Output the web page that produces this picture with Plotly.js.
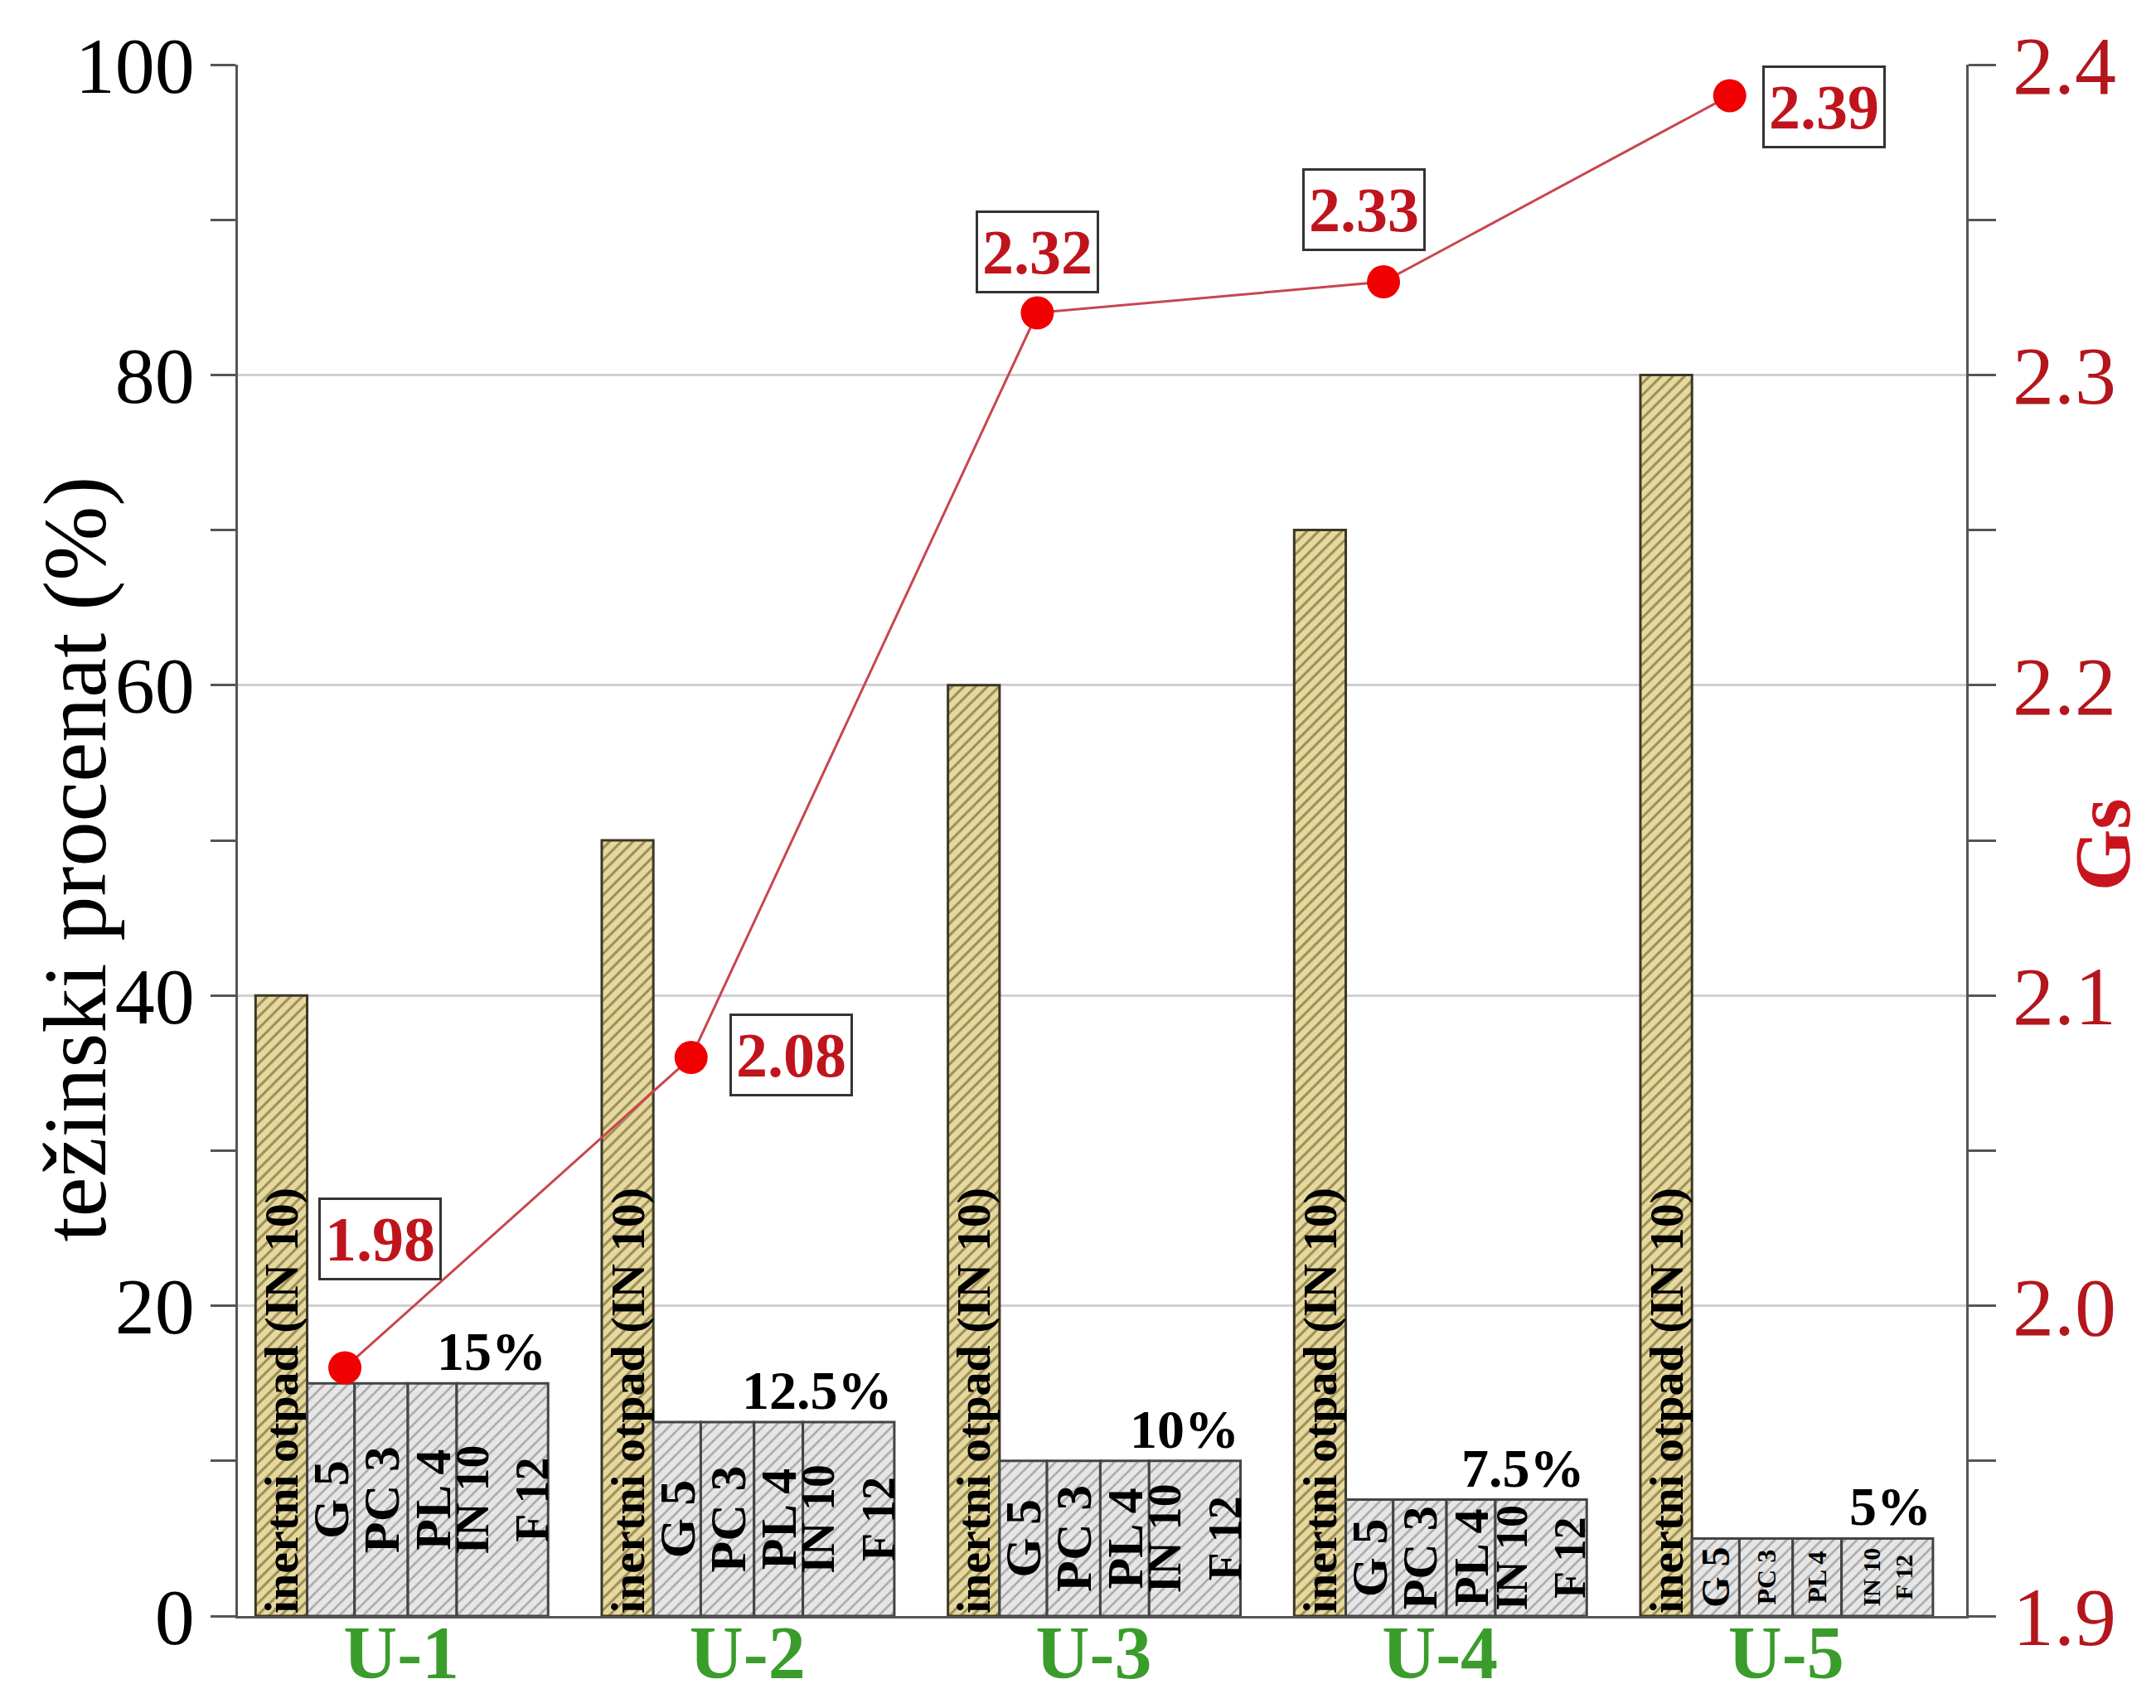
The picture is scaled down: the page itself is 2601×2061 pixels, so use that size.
<!DOCTYPE html>
<html>
<head>
<meta charset="utf-8">
<script src="https://cdn.plot.ly/plotly-3.0.1.min.js"></script>
<style>
  html, body { margin: 0; padding: 0; background: #ffffff; }
  #chart { width: 2601px; height: 2061px; }
</style>
</head>
<body>
<div id="chart"></div>
<script>
// ---------------- DATA ----------------
const categories = ['U-1', 'U-2', 'U-3', 'U-4', 'U-5'];
const inertWaste = [40, 50, 60, 70, 80];            // inertni otpad (IN 10), %
const otherWaste = [15, 12.5, 10, 7.5, 5];          // each of G5 / PC3 / PL4 / IN10+F12 cells, %
const gsValues   = [1.98, 2.08, 2.32, 2.33, 2.39];  // Gs (right axis)
const inertLabel = 'inertni otpad (IN 10)';
const cellLabels = ['G 5', 'PC 3', 'PL 4', 'IN 10<br>F 12'];
const yTitle = 'težinski procenat (%)';
const y2Title = 'Gs';

// ---------------- STYLE / GEOMETRY ----------------
const FONT = 'Liberation Serif, Times New Roman, serif';
const inertGeom = { offset: -0.421, width: 0.149 };
const cellGeom = [
  { offset: -0.272, width: 0.137 },
  { offset: -0.135, width: 0.154 },
  { offset:  0.019, width: 0.141 },
  { offset:  0.160, width: 0.264 }
];
// font size of the cell labels per group (last group has very short cells)
const cellFontSizes = [
  [62, 62, 62, 62, 48],
  [62, 62, 62, 60, 32],
  [62, 62, 62, 60, 32],
  [56, 56, 56, 54, 30]
];
const groupRightEdge = 0.424;
const markerShift = 0.163;
const xRange = [-0.472, 4.52];
const gsLabelShift = [[42, 155], [121, 3], [0, 74], [-24, 87], [114, -14]];

const traces = [];

traces.push({
  type: 'bar',
  x: categories,
  y: inertWaste,
  offset: inertGeom.offset,
  width: inertGeom.width,
  text: categories.map(() => inertLabel),
  textposition: 'inside',
  insidetextanchor: 'start',
  constraintext: 'none',
  textangle: -90,
  textfont: { family: FONT, size: 58, color: '#000000', weight: 'bold' },
  marker: {
    color: '#e6d9a0',
    line: { color: '#3c3826', width: 3 },
    pattern: { shape: '/', size: 10, solidity: 0.3, fgcolor: '#9c8d55', bgcolor: '#e6d9a0', fillmode: 'replace' }
  },
  hoverinfo: 'skip',
  showlegend: false
});

cellLabels.forEach((lab, k) => {
  traces.push({
    type: 'bar',
    x: categories,
    y: otherWaste,
    offset: cellGeom[k].offset,
    width: cellGeom[k].width,
    text: categories.map(() => lab),
    textposition: 'inside',
    insidetextanchor: 'middle',
    constraintext: 'none',
    textangle: -90,
    textfont: { family: FONT, size: cellFontSizes[k], color: '#000000', weight: 'bold' },
    marker: {
      color: '#e6e6e6',
      line: { color: '#444444', width: 3 },
      pattern: { shape: '/', size: 10, solidity: 0.25, fgcolor: '#a8a8a8', bgcolor: '#e6e6e6', fillmode: 'replace' }
    },
    hoverinfo: 'skip',
    showlegend: false
  });
});

traces.push({
  type: 'scatter',
  mode: 'lines+markers',
  x: categories,
  y: gsValues,
  xaxis: 'x2',
  yaxis: 'y2',
  line: { color: '#c8464f', width: 3 },
  marker: { color: '#f00000', size: 40, line: { width: 0 } },
  cliponaxis: false,
  hoverinfo: 'skip',
  showlegend: false
});

const annotations = [];

otherWaste.forEach((v, i) => {
  annotations.push({
    xref: 'x', yref: 'y',
    x: i + groupRightEdge, y: v,
    xanchor: 'right', yanchor: 'bottom',
    text: v + '%',
    showarrow: false,
    font: { family: FONT, size: 66, color: '#000000', weight: 'bold' }
  });
});

gsValues.forEach((v, i) => {
  annotations.push({
    xref: 'x2', yref: 'y2',
    x: i, y: v,
    xanchor: 'center', yanchor: 'middle',
    xshift: gsLabelShift[i][0], yshift: gsLabelShift[i][1],
    text: v.toFixed(2),
    showarrow: false,
    bgcolor: '#ffffff',
    bordercolor: '#333333',
    borderwidth: 3,
    borderpad: 5,
    font: { family: FONT, size: 76, color: '#c0141c', weight: 'bold' }
  });
});

// left axis title
annotations.push({
  xref: 'paper', yref: 'paper',
  x: -0.094, y: 0.488,
  xanchor: 'center', yanchor: 'middle',
  text: yTitle,
  textangle: -90,
  showarrow: false,
  font: { family: FONT, size: 108, color: '#000000' }
});

// right axis title
annotations.push({
  xref: 'paper', yref: 'paper',
  x: 1.079, y: 0.497,
  xanchor: 'center', yanchor: 'middle',
  text: y2Title,
  textangle: -90,
  showarrow: false,
  font: { family: FONT, size: 96, color: '#c8141e', weight: 'bold' }
});

const axisLine = '#555555';

const layout = {
  width: 2601,
  height: 2061,
  margin: { l: 287, r: 229, t: 78, b: 111, pad: 0 },
  paper_bgcolor: '#ffffff',
  plot_bgcolor: '#ffffff',
  barmode: 'overlay',
  showlegend: false,
  font: { family: FONT, color: '#000000' },
  xaxis: {
    type: 'category',
    categoryorder: 'array',
    categoryarray: categories,
    range: xRange,
    showline: true, linecolor: axisLine, linewidth: 3,
    ticks: '', showgrid: false, zeroline: false,
    ticklabelstandoff: -36,
    tickfont: { family: FONT, size: 90, color: '#3a9c2b', weight: 'bold' }
  },
  xaxis2: {
    type: 'category',
    categoryorder: 'array',
    categoryarray: categories,
    overlaying: 'x',
    anchor: 'y2',
    range: [xRange[0] + markerShift, xRange[1] + markerShift],
    visible: false
  },
  yaxis: {
    range: [0, 100],
    dtick: 20,
    ticks: 'outside', ticklen: 30, tickwidth: 3, tickcolor: axisLine,
    showline: true, linecolor: axisLine, linewidth: 3,
    showgrid: true, gridcolor: '#d0d0d0', gridwidth: 3,
    zeroline: false,
    minor: { dtick: 10, ticks: 'outside', ticklen: 30, tickwidth: 3, tickcolor: axisLine, showgrid: false },
    tickfont: { family: FONT, size: 96, color: '#000000' }
  },
  yaxis2: {
    overlaying: 'y',
    side: 'right',
    anchor: 'x2',
    range: [1.9, 2.4],
    dtick: 0.1,
    tickformat: '.1f',
    ticks: 'outside', ticklen: 33, tickwidth: 3, tickcolor: axisLine,
    showline: true, linecolor: axisLine, linewidth: 3,
    showgrid: false, zeroline: false,
    minor: { dtick: 0.05, ticks: 'outside', ticklen: 33, tickwidth: 3, tickcolor: axisLine, showgrid: false },
    tickfont: { family: FONT, size: 100, color: '#b3161c' }
  },
  annotations: annotations
};

Plotly.newPlot('chart', traces, layout, { staticPlot: true, displayModeBar: false });
</script>
</body>
</html>
